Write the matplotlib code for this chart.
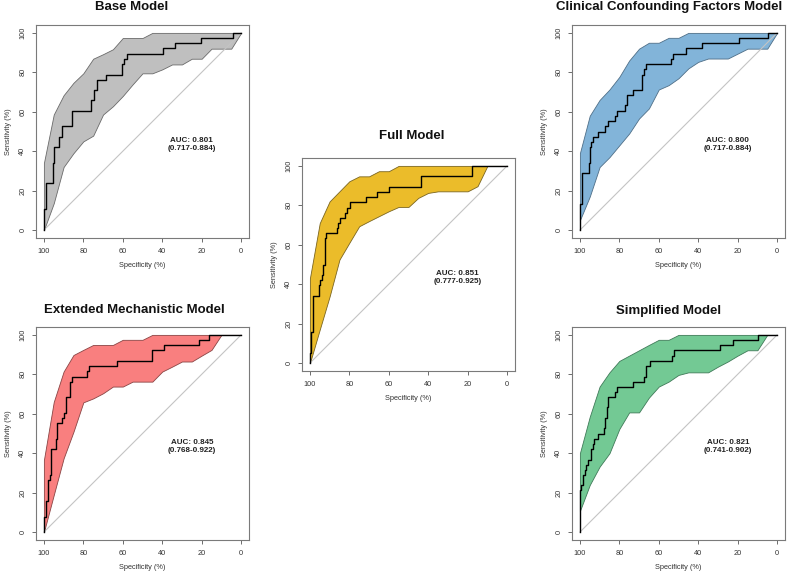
import numpy as np
import matplotlib
matplotlib.use("Agg")
import matplotlib.pyplot as plt

plt.rcParams['font.family'] = ['Liberation Sans', 'DejaVu Sans']

# specificity grid of the confidence bands (%)
grid_spec = [100, 95, 90, 85, 80, 75, 70, 65, 60, 55, 50, 45, 40, 35, 30, 25, 20, 15, 10, 5, 0]

# Base Model
base_spec = [100, 100, 99, 95.6, 95, 92.4, 90.7, 85.6, 76.1, 74.8, 73.1, 68.4, 60.6, 59.2, 57.9, 39.6, 33.7, 20.3, 4.2, 0]
base_sens = [0, 10.5, 23.7, 34.2, 42.1, 47.4, 52.6, 60.5, 65.8, 71.1, 76.3, 78.9, 84.2, 86.8, 89.5, 92.1, 94.7, 97.4, 100, 100]
base_upper = [34, 58.6, 68.4, 74.7, 79.5, 86.9, 89.2, 91.7, 97.4, 97.4, 97.4, 100, 100, 100, 100, 100, 100, 100, 100, 100, 100]
base_lower = [0, 13.6, 32, 39, 45, 47.9, 58.6, 62.8, 68, 73.9, 79.5, 79.5, 81.5, 84, 84, 86.9, 86.9, 92, 92, 92, 100]

# Clinical Confounding Factors Model
clin_spec = [100, 100, 99, 95.6, 95.1, 94.4, 93.4, 90.7, 87.2, 86, 82.3, 81.3, 76.9, 76.2, 73.1, 68.4, 67.7, 66.7, 53.9, 53, 46.3, 38.2, 19.4, 4.4, 0]
clin_sens = [0, 13.2, 28.9, 34.2, 42.1, 44.7, 47.4, 50, 52.6, 55.3, 57.9, 60.5, 63.2, 68.4, 71.1, 78.9, 81.6, 84.2, 86.8, 89.5, 92.1, 94.7, 97.4, 100, 100]
clin_upper = [39, 58, 66, 71.3, 77.7, 86, 92, 95, 95, 97.5, 97.5, 100, 100, 100, 100, 100, 100, 100, 100, 100, 100]
clin_lower = [5, 17, 32, 37, 43, 49, 56.6, 61.7, 71.3, 73.5, 77, 82, 85.3, 87, 87, 87, 89.5, 92, 92, 92, 100]

# Full Model
full_spec = [100, 100, 99.2, 98.3, 95.6, 94.9, 93.9, 93.2, 92.2, 91.6, 86.1, 85.5, 84.8, 82.1, 81.1, 79.7, 71.6, 65.9, 60, 43.9, 17.9, 0]
full_sens = [0, 5.3, 15.8, 34.2, 39.5, 42.1, 44.7, 50, 63.2, 65.8, 68.4, 71.1, 73.7, 76.3, 78.9, 81.6, 84.2, 86.8, 89.5, 94.7, 100, 100]
full_upper = [43, 71, 82, 87.1, 92.2, 94.7, 94.7, 97.3, 97.3, 100, 100, 100, 100, 100, 100, 100, 100, 100, 100, 100, 100]
full_lower = [0, 17, 33.8, 52.5, 61, 69.4, 72, 74.5, 77, 79.2, 79.2, 83.8, 86.3, 87.1, 87.1, 87.1, 87.1, 89.7, 100, 100, 100]

# Extended Mechanistic Model
ext_spec = [100, 100, 99, 98, 97.1, 96.5, 94.1, 93.3, 90.7, 89.7, 88.7, 87, 86, 78.2, 77.2, 63.1, 45.4, 39.1, 21.2, 16.2, 0]
ext_sens = [0, 7.9, 15.8, 26.3, 28.9, 42.1, 47.4, 55.3, 57.9, 60.5, 68.4, 76.3, 78.9, 81.6, 84.2, 86.8, 92.1, 94.7, 97.4, 100, 100]
ext_upper = [36.5, 66, 81.4, 89.8, 92.4, 94.9, 94.9, 94.9, 97.5, 97.5, 97.5, 100, 100, 100, 100, 100, 100, 100, 100, 100, 100]
ext_lower = [0, 18.8, 37.4, 50.9, 65.8, 67.8, 70.4, 73.8, 73.8, 76.3, 76.3, 76.3, 81.4, 83.9, 86.5, 86.5, 89.5, 92.4, 100, 100, 100]

# Simplified Model
simp_spec = [100, 100, 99.3, 98.5, 97.6, 96.8, 95.9, 94.3, 93.4, 92.6, 90.7, 88, 87.3, 86.5, 85.8, 82.3, 81.3, 73.1, 67.7, 66.4, 64.4, 53.2, 52.5, 29.2, 22.5, 9.5, 0]
simp_sens = [0, 21.1, 23.7, 28.9, 31.6, 34.2, 36.8, 42.1, 44.7, 47.4, 50, 52.6, 57.9, 63.2, 68.4, 71.1, 73.7, 76.3, 78.9, 84.2, 86.8, 89.5, 92.1, 94.7, 97.4, 100, 100]
simp_upper = [40, 58.5, 73.8, 81, 86.8, 89.5, 92.2, 94.9, 97.5, 97.5, 100, 100, 100, 100, 100, 100, 100, 100, 100, 100, 100]
simp_lower = [10.7, 23.9, 33.2, 40, 52.3, 60.7, 60.7, 68.2, 73.8, 76.3, 79.7, 81, 81, 81, 83.9, 86.5, 89.5, 92.2, 92.2, 100, 100]

titles = ["Base Model", "Clinical Confounding Factors Model", "Full Model",
          "Extended Mechanistic Model", "Simplified Model"]
auc_text = ["AUC: 0.801\n(0.717-0.884)", "AUC: 0.800\n(0.717-0.884)", "AUC: 0.851\n(0.777-0.925)",
            "AUC: 0.845\n(0.768-0.922)", "AUC: 0.821\n(0.741-0.902)"]
fill_colors = ["#bfbfbf", "#82b4d9", "#ebbc2a", "#f97f7f", "#73c994"]
edge_colors = ["#6a6a6a", "#4f6f88", "#7a6520", "#8a4545", "#3f7a58"]

panels = [
    (base_spec, base_sens, base_upper, base_lower),
    (clin_spec, clin_sens, clin_upper, clin_lower),
    (full_spec, full_sens, full_upper, full_lower),
    (ext_spec, ext_sens, ext_upper, ext_lower),
    (simp_spec, simp_sens, simp_upper, simp_lower),
]

W, H = 800, 577
# axes boxes in pixels: left, top
boxes = [(36, 25), (572, 25), (302, 158), (36, 327), (572, 327)]
box_w, box_h = 213, 213
# title centers in pixels
title_pos = [(132, 7), (669, 7), (412, 136), (134, 310), (669, 311)]

fig = plt.figure(figsize=(W / 100, H / 100), dpi=100)

for i, (spec, sens, up, lo) in enumerate(panels):
    left, top = boxes[i]
    ax = fig.add_axes([left / W, 1 - (top + box_h) / H, box_w / W, box_h / H])
    ax.fill_between(grid_spec, lo, up, facecolor=fill_colors[i], edgecolor=edge_colors[i],
                    linewidth=0.6, zorder=1)
    ax.plot([100, 0], [0, 100], color="#c4c4c4", linewidth=0.8, zorder=2)
    ax.step(spec, sens, where="post", color="black", linewidth=1.0, zorder=3)
    ax.text(25, 43.5, auc_text[i], ha="center", va="center", fontsize=5.8,
            fontweight="bold", color="#222222", linespacing=1.25)

    ax.set_xlim(104, -4)
    ax.set_ylim(-4, 104)
    ticks = [0, 20, 40, 60, 80, 100]
    ax.set_xticks(ticks)
    ax.set_yticks(ticks)
    ax.set_xticklabels([str(t) for t in ticks])
    ax.set_yticklabels([str(t) for t in ticks], rotation=90, va="center")
    ax.tick_params(length=3, width=0.6, color="#555555", labelsize=5.3,
                   labelcolor="#333333", pad=4)
    for s in ax.spines.values():
        s.set_color("#7a7a7a")
        s.set_linewidth(0.8)
    ax.set_xlabel("Specificity (%)", fontsize=5.3, color="#333333", labelpad=5)
    ax.set_ylabel("Sensitivity (%)", fontsize=5.3, color="#333333", labelpad=5)

    tx, ty = title_pos[i]
    fig.text(tx / W, 1 - ty / H, titles[i], ha="center", va="center",
             fontsize=9.5, fontweight="bold", color="#111111")

fig.savefig("out.png", dpi=100)
